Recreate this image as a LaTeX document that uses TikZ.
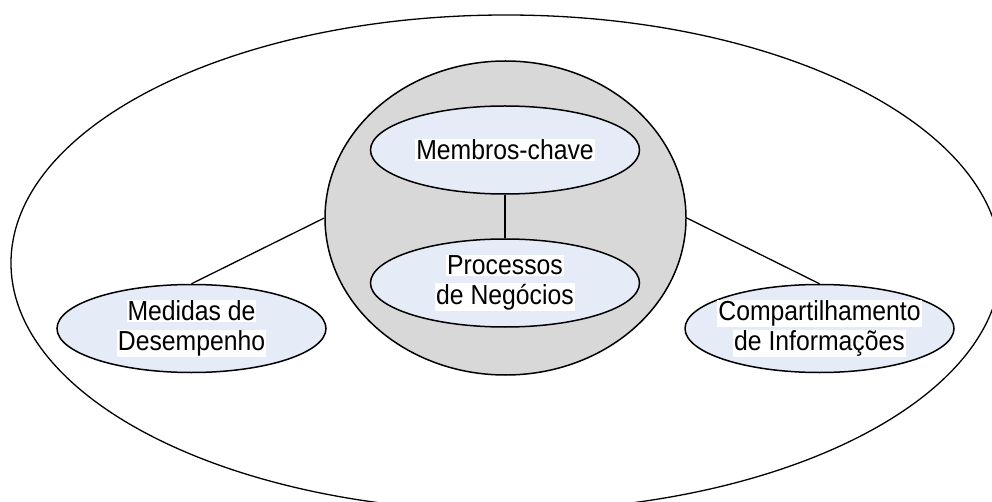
\documentclass[tikz,border=0pt]{standalone}
\usepackage{fontspec}
\setmainfont{Liberation Sans}[FakeStretch=0.9]
\usetikzlibrary{shapes.geometric}
\definecolor{grayfill}{HTML}{D8D8D8}
\definecolor{bluefill}{HTML}{E5ECF7}
\newcommand\hlt[1]{{\setlength{\fboxsep}{1pt}\colorbox{white}{#1}}}
\tikzset{
  outerell/.style={ellipse, draw, line width=1.3pt, minimum width=990, minimum height=496, inner sep=0},
  coreell/.style={ellipse, draw, fill=grayfill, line width=1.5pt, minimum width=361, minimum height=314, inner sep=0},
  smallell/.style={ellipse, draw, fill=bluefill, line width=1.5pt, minimum width=269, minimum height=88, inner sep=0},
  lbl/.style={align=center, font=\fontsize{27.5}{30}\selectfont, inner sep=0},
  link/.style={line width=1.3pt}
}
\begin{document}
\begin{tikzpicture}[x=1pt,y=-1pt]
\useasboundingbox (0,0) rectangle (992,502);
\clip (0,0) rectangle (992,502);
\fill[white] (0,0) rectangle (992,502);
\node[outerell] (outer) at (506,263) {};
\node[coreell] (core) at (505.5,218) {};
\node[smallell] (mem) at (505,150) {};
\node[smallell] (proc) at (505,283) {};
\node[smallell] (med) at (191.5,328.5) {};
\node[smallell] (comp) at (819.5,328.5) {};
\node[lbl] (memtxt) at (mem) {\hlt{Membros-chave}};
\node[lbl] (proctxt) at (proc) {\hlt{Processos}\\\hlt{de Negócios}};
\node[lbl] (medtxt) at (med) {\hlt{Medidas de}\\\hlt{Desempenho}};
\node[lbl] (comptxt) at (comp) {\hlt{Compartilhamento}\\\hlt{de Informações}};
\draw[link] (mem.south) -- (proc.north);
\draw[link] (med.north) -- (core.west);
\draw[link] (comp.north) -- (core.east);
\end{tikzpicture}
\end{document}
